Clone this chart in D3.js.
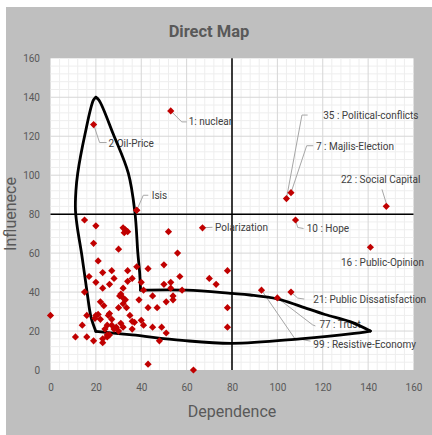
<!DOCTYPE html>
<html>
<head>
<meta charset="utf-8">
<script src="https://cdn.jsdelivr.net/npm/d3@7"></script>
<style>
  html, body { margin: 0; padding: 0; background: #fff; }
  svg { display: block; font-family: Roboto, sans-serif; }
</style>
</head>
<body>
<div id="chart"></div>
<script>
// plain points: dependence (x) and influence (y)
var dependence = [15, 20, 32, 33, 34, 32.5, 38, 52, 19, 30, 56, 21, 50, 38, 43, 23, 27, 34,
  17, 28, 36, 57, 70, 73, 78, 20, 26, 34, 40, 50, 53, 53, 58, 41, 23, 32, 15, 31, 30.5,
  32, 33, 39, 45, 54, 54, 51, 22, 23.5, 32, 33.5, 30, 43, 47, 78,
  0, 16, 20, 21, 19.6, 22, 26, 27, 25.5, 35, 36, 37, 14, 25, 27, 28, 29, 31, 32, 30, 36,
  41, 45, 49, 51, 78, 11, 16, 19, 23, 23, 25, 25, 26, 24, 48, 43, 63, 40];
var influence = [77, 74, 73, 72, 71, 70.5, 82, 71, 65, 62, 60, 56, 54, 53, 52, 50, 51, 51,
  48, 47, 47, 48, 47, 44, 51, 45, 44, 45.5, 45, 44, 45, 42, 41, 41, 42, 42, 40, 39, 38,
  37, 36, 36, 38, 38, 36, 35, 35, 33, 34, 32, 32, 32, 32, 32,
  28, 28, 28, 28.5, 26.5, 26, 29, 26, 28, 28, 25, 24.5, 23, 23, 23, 21, 22, 24, 22, 20, 21,
  23, 22, 22, 19, 22, 17, 17, 15, 14, 16, 17, 18, 18, 21, 15, 3, 0, 25.5];

// labelled points
var labelNames = ["1: nuclear", "2 Oil-Price", "Isis", "Polarization", "35 : Political-conflicts",
  "7 : Majlis-Election", "22 : Social Capital", "10 : Hope", "16 : Public-Opinion",
  "21: Public Dissatisfaction", "77 : Trust", "99 : Resistive-Economy"];
var labelDep = [53, 19, 38, 67, 104, 106, 148, 108, 141, 106, 100, 93];
var labelInf = [133, 126, 82, 73, 88, 91, 84, 77, 63, 40, 37, 41];

var tickValues = [0, 20, 40, 60, 80, 100, 120, 140, 160];

// outline drawn on the map, four curved sides
var outlineSides = [
  [[20, 140], [21.4, 138.5], [27.7, 121], [34.3, 101], [37.2, 81], [38.5, 60], [39.3, 50], [39.7, 41]],
  [[39.7, 41], [60, 41], [80, 39.3], [88, 38.5], [100, 36.5], [110, 32.8], [121, 28.5], [132, 24.8], [141, 20]],
  [[141, 20], [132, 18.5], [110, 16], [80, 13.7], [58, 15.2], [36, 18], [20, 19.8]],
  [[20, 19.8], [17.8, 27.4], [16.2, 39.3], [13.7, 59.8], [11.8, 73.4], [11, 82], [11.2, 92], [12, 101], [15.2, 121], [18.9, 138.5], [20, 140]]
];

// label text offsets and leader paths, pixels from the point
var labelLayout = [
  {tx: 18, ty: 11, leader: [[0, 0], [11, 11], [16, 11]]},
  {tx: 15, ty: 18.5, leader: [[0, 0], [6, 18], [13, 18]]},
  {tx: 15, ty: -15, leader: [[0, 0], [6.6, -15], [11.6, -15]]},
  {tx: 12.5, ty: -0.5, leader: [[0, 0], [10, -0.5]]},
  {tx: 36.8, ty: -83, leader: [[0, 0], [15.5, -83.5], [21.2, -83.5]]},
  {tx: 25, ty: -46, leader: [[0, 0], [15.7, -47], [22.3, -47]]},
  {tx: -45.3, ty: -27, leader: [[0, -3], [-4.3, -17]]},
  {tx: 11.2, ty: 9, leader: [[0, 0], [2.2, 7.5], [8, 8.5]]},
  {tx: -29.4, ty: 15, leader: null},
  {tx: 22.3, ty: 7, leader: [[0, 0], [6.7, 6], [13.3, 7]]},
  {tx: 42, ty: 27, leader: [[0, 0], [35.3, 27], [38, 28]]},
  {tx: 51.8, ty: 54, leader: [[0, 0], [33, 48], [49, 51]]}
];

const width = 432
const height = 435
const plot = {left: 50.5, right: 413.5, top: 58.3, bottom: 370}

var x = d3.scaleLinear().domain([0, 160]).range([plot.left, plot.right])
var y = d3.scaleLinear().domain([0, 160]).range([plot.bottom, plot.top])

const svg = d3.select('#chart').append('svg').attr('width', width).attr('height', height);

// grey chart background and white plot area
svg.append('rect').attr('x', 6).attr('y', 7).attr('width', width - 6).attr('height', height - 7).attr('fill', '#bfbfbf');
svg.append('rect').attr('x', plot.left).attr('y', plot.top)
  .attr('width', plot.right - plot.left).attr('height', plot.bottom - plot.top).attr('fill', '#fff');

// minor grid every 4, major every 20
var minor = d3.range(4, 160, 4).filter(d => d % 20 != 0);
var grid = svg.append('g');
grid.selectAll('.mx').data(minor).enter().append('line')
  .attr('x1', d => x(d)).attr('x2', d => x(d)).attr('y1', plot.top).attr('y2', plot.bottom)
  .attr('stroke', '#eeeeee');
grid.selectAll('.my').data(minor).enter().append('line')
  .attr('y1', d => y(d)).attr('y2', d => y(d)).attr('x1', plot.left).attr('x2', plot.right)
  .attr('stroke', '#eeeeee');
grid.selectAll('.gx').data(tickValues.slice(1, -1)).enter().append('line')
  .attr('x1', d => x(d)).attr('x2', d => x(d)).attr('y1', plot.top).attr('y2', plot.bottom)
  .attr('stroke', '#d6d6d6');
grid.selectAll('.gy').data(tickValues.slice(1, -1)).enter().append('line')
  .attr('y1', d => y(d)).attr('y2', d => y(d)).attr('x1', plot.left).attr('x2', plot.right)
  .attr('stroke', '#d6d6d6');

// axes labels
var xAxis = svg.append('g')
  .attr('transform', `translate(0, ${plot.bottom})`)
  .call(d3.axisBottom(x).tickValues(tickValues).tickSize(0).tickPadding(14));
var yAxis = svg.append('g')
  .attr('transform', `translate(${plot.left}, 0)`)
  .call(d3.axisLeft(y).tickValues(tickValues).tickSize(0).tickPadding(10.5));
[xAxis, yAxis].forEach(function(a) {
  a.select('.domain').remove();
  a.selectAll('text').attr('fill', '#595959').style('font-size', '10px').style('font-family', 'Roboto, sans-serif');
});

// the cross through (80, 80)
svg.append('line').attr('x1', x(80)).attr('x2', x(80)).attr('y1', y(160)).attr('y2', y(0))
  .attr('stroke', '#000').attr('stroke-width', 1.5);
svg.append('line').attr('x1', x(0)).attr('x2', x(160)).attr('y1', y(80)).attr('y2', y(80))
  .attr('stroke', '#000').attr('stroke-width', 1.5);

// titles
svg.append('text').attr('x', 209).attr('y', 36.5).attr('text-anchor', 'middle')
  .attr('fill', '#595959').attr('font-weight', 700).attr('font-size', 16.5).text('Direct Map');
svg.append('text').attr('x', 232).attr('y', 417).attr('text-anchor', 'middle')
  .attr('fill', '#595959').attr('font-size', 16).text('Dependence');
svg.append('text').attr('transform', 'translate(16, 214) rotate(-90)').attr('text-anchor', 'middle')
  .attr('fill', '#595959').attr('font-size', 16).text('Influenece');

// data labels with leader lines
var labelled = labelNames.map((name, i) => ({name: name, dep: labelDep[i], inf: labelInf[i], lay: labelLayout[i]}));
var lbl = svg.append('g');
var leaderLine = d3.line();
labelled.forEach(function(d) {
  var px = x(d.dep), py = y(d.inf);
  if (d.lay.leader) {
    lbl.append('path')
      .attr('d', leaderLine(d.lay.leader.map(p => [px + p[0], py + p[1]])))
      .attr('fill', 'none').attr('stroke', '#a6a6a6').attr('stroke-width', 1);
  }
  lbl.append('text')
    .attr('x', px + d.lay.tx).attr('y', py + d.lay.ty).attr('dy', '0.35em')
    .attr('fill', '#404040').attr('font-size', 10).text(d.name);
});

// outline
var outline = d3.line().x(d => x(d[0])).y(d => y(d[1])).curve(d3.curveCatmullRom.alpha(0.5));
svg.append('g').selectAll('path').data(outlineSides).enter().append('path')
  .attr('d', outline)
  .attr('fill', 'none').attr('stroke', '#000').attr('stroke-width', 2.8).attr('stroke-linecap', 'round');

// points
var diamond = d3.symbol().type(d3.symbolSquare).size(26);
var pts = dependence.map((d, i) => [d, influence[i]]).concat(labelDep.map((d, i) => [d, labelInf[i]]));
svg.append('g').selectAll('path').data(pts).enter().append('path')
  .attr('d', diamond)
  .attr('transform', d => `translate(${x(d[0])}, ${y(d[1])}) rotate(45)`)
  .attr('fill', '#c00000');
</script>
</body>
</html>
